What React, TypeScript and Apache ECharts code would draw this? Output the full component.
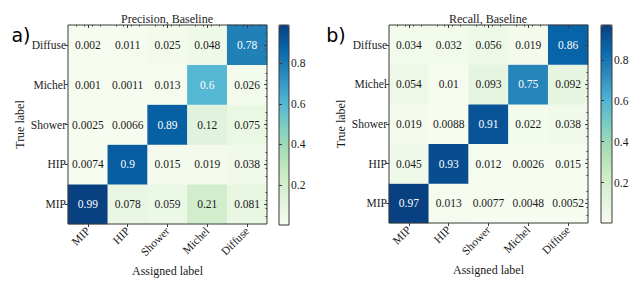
import React, { useEffect, useRef } from "react";
import * as echarts from "echarts";

// Assigned (predicted) classes along x, true classes along y (bottom → top)
const assignedLabels = ["MIP", "HIP", "Shower", "Michel", "Diffuse"];
const trueLabels = ["MIP", "HIP", "Shower", "Michel", "Diffuse"];

// Precision, Baseline — rows are true labels, columns are assigned labels
const precisionMIP = [0.99, 0.078, 0.059, 0.21, 0.081];
const precisionHIP = [0.0074, 0.9, 0.015, 0.019, 0.038];
const precisionShower = [0.0025, 0.0066, 0.89, 0.12, 0.075];
const precisionMichel = [0.001, 0.0011, 0.013, 0.6, 0.026];
const precisionDiffuse = [0.002, 0.011, 0.025, 0.048, 0.78];

// Recall, Baseline
const recallMIP = [0.97, 0.013, 0.0077, 0.0048, 0.0052];
const recallHIP = [0.045, 0.93, 0.012, 0.0026, 0.015];
const recallShower = [0.019, 0.0088, 0.91, 0.022, 0.038];
const recallMichel = [0.054, 0.01, 0.093, 0.75, 0.092];
const recallDiffuse = [0.034, 0.032, 0.056, 0.019, 0.86];

const colorbarTicks = [0.2, 0.4, 0.6, 0.8];

const GnBu = [
  "#f7fcf0", "#e0f3db", "#ccebc5", "#a8ddb5", "#7bccc4",
  "#4eb3d3", "#2b8cbe", "#0868ac", "#084081",
];

const SERIF = "Liberation Serif";
const TXT = "#1a1a1a";
const FRAME = "#3a3a3a";

function buildData(rows: number[][]) {
  const out: any[] = [];
  rows.forEach((row, yi) => {
    row.forEach((v, xi) => {
      out.push({
        value: [xi, yi, v],
        label: { color: v > 0.5 ? "#ffffff" : TXT },
      });
    });
  });
  return out;
}

const precisionRows = [precisionMIP, precisionHIP, precisionShower, precisionMichel, precisionDiffuse];
const recallRows = [recallMIP, recallHIP, recallShower, recallMichel, recallDiffuse];

function minOf(rows: number[][]) {
  return Math.min(...rows.flat());
}
function maxOf(rows: number[][]) {
  return Math.max(...rows.flat());
}

export default function App() {
  const ref = useRef<HTMLDivElement>(null);

  useEffect(() => {
    if (!ref.current) return;
    const chart = echarts.init(ref.current, undefined, { renderer: "svg" });

    const panels = [
      { left: 68, top: 25, w: 199, h: 199, cbLeft: 279, cbW: 10, cbH: 200, rows: precisionRows },
      { left: 389, top: 25, w: 199, h: 198, cbLeft: 601, cbW: 11, cbH: 198, rows: recallRows },
    ];

    const grids: any[] = [];
    const xAxes: any[] = [];
    const yAxes: any[] = [];
    const series: any[] = [];
    const visualMaps: any[] = [];

    panels.forEach((p, i) => {
      const gHeat = grids.length;
      grids.push({
        left: p.left, top: p.top, width: p.w, height: p.h,
        show: true, borderColor: FRAME, borderWidth: 1,
        backgroundColor: "transparent", z: 10,
      });
      const gBar = grids.length;
      grids.push({
        left: p.cbLeft, top: p.top, width: p.cbW, height: p.cbH,
        show: true, borderColor: FRAME, borderWidth: 1,
        backgroundColor: "transparent", z: 10,
      });

      const xCat = xAxes.length;
      xAxes.push({
        type: "category", gridIndex: gHeat, data: assignedLabels, position: "bottom",
        axisLine: { show: false },
        axisTick: { show: true, alignWithLabel: true, length: 3, lineStyle: { color: FRAME } },
        axisLabel: { rotate: 45, margin: 5, fontSize: 11.5, fontFamily: SERIF, color: TXT },
        splitLine: { show: false },
        name: "Assigned label", nameLocation: "middle", nameGap: 37,
        nameTextStyle: { fontSize: 12, fontFamily: SERIF, color: TXT },
        z: 11,
      });
      xAxes.push({
        type: "value", gridIndex: gHeat, position: "top", min: 0, max: 5, interval: 1,
        axisLine: { show: false },
        axisTick: { show: true, inside: true, length: 3, customValues: [0.5, 1.5, 2.5, 3.5, 4.5], lineStyle: { color: FRAME } },
        minorTick: { show: true, splitNumber: 5, length: 1.5, lineStyle: { color: FRAME } },
        axisLabel: { show: false }, splitLine: { show: false }, minorSplitLine: { show: false },
        z: 11,
      });
      xAxes.push({
        type: "value", gridIndex: gBar, min: 0, max: 1, show: false,
      });

      const yCat = yAxes.length;
      yAxes.push({
        type: "category", gridIndex: gHeat, data: trueLabels, position: "left",
        axisLine: { show: false },
        axisTick: { show: true, alignWithLabel: true, length: 3, lineStyle: { color: FRAME } },
        axisLabel: { margin: 2, fontSize: 11.5, fontFamily: SERIF, color: TXT },
        splitLine: { show: false },
        name: "True label", nameLocation: "middle", nameGap: 42,
        nameTextStyle: { fontSize: 12, fontFamily: SERIF, color: TXT },
        z: 11,
      });
      yAxes.push({
        type: "value", gridIndex: gHeat, position: "right", min: 0, max: 5, interval: 1,
        axisLine: { show: false },
        axisTick: { show: true, inside: true, length: 3, customValues: [0.5, 1.5, 2.5, 3.5, 4.5], lineStyle: { color: FRAME } },
        minorTick: { show: true, splitNumber: 5, length: 1.5, lineStyle: { color: FRAME } },
        axisLabel: { show: false }, splitLine: { show: false }, minorSplitLine: { show: false },
        z: 11,
      });
      const vmin = minOf(p.rows);
      const vmax = maxOf(p.rows);
      yAxes.push({
        type: "value", gridIndex: gBar, position: "right", min: vmin, max: vmax,
        axisLine: { show: false },
        axisTick: { show: true, length: 3, customValues: colorbarTicks, lineStyle: { color: FRAME } },
        axisLabel: {
          customValues: colorbarTicks, margin: 2, fontSize: 11.5, fontFamily: SERIF, color: TXT,
          formatter: (v: number) => String(Math.round(v * 10) / 10),
        },
        splitLine: { show: false },
        z: 11,
      });

      series.push({
        type: "heatmap",
        xAxisIndex: xCat, yAxisIndex: yCat,
        data: buildData(p.rows),
        label: {
          show: true, fontSize: 11.5, fontFamily: SERIF,
          formatter: (prm: any) => String(prm.value[2]),
        },
        itemStyle: { borderWidth: 0 },
        emphasis: { disabled: true },
      });

      visualMaps.push({
        type: "continuous", seriesIndex: i, dimension: 2,
        min: vmin, max: vmax, calculable: false, realtime: false,
        orient: "vertical", left: p.cbLeft, top: p.top,
        itemWidth: p.cbW, itemHeight: p.cbH, padding: 0,
        inRange: { color: GnBu }, hoverLink: false, text: null,
      });
    });

    chart.setOption({
      animation: false,
      backgroundColor: "#ffffff",
      textStyle: { fontFamily: SERIF },
      grid: grids,
      xAxis: xAxes,
      yAxis: yAxes,
      visualMap: visualMaps,
      series,
      graphic: [
        { type: "text", x: 167, y: 19, style: { text: "Precision, Baseline", font: `12px ${SERIF}`, fill: TXT, textAlign: "center", textVerticalAlign: "middle" } },
        { type: "text", x: 488, y: 19, style: { text: "Recall, Baseline", font: `12px ${SERIF}`, fill: TXT, textAlign: "center", textVerticalAlign: "middle" } },
        { type: "text", x: 21, y: 35, style: { text: "a)", font: `19px DejaVu Sans`, fill: "#000", textAlign: "center", textVerticalAlign: "middle" } },
        { type: "text", x: 336, y: 35, style: { text: "b)", font: `19px DejaVu Sans`, fill: "#000", textAlign: "center", textVerticalAlign: "middle" } },
      ],
    });

    return () => chart.dispose();
  }, []);

  return (
    <div
      ref={ref}
      style={{ position: "absolute", left: 0, top: 0, width: 635, height: 286 }}
    />
  );
}
